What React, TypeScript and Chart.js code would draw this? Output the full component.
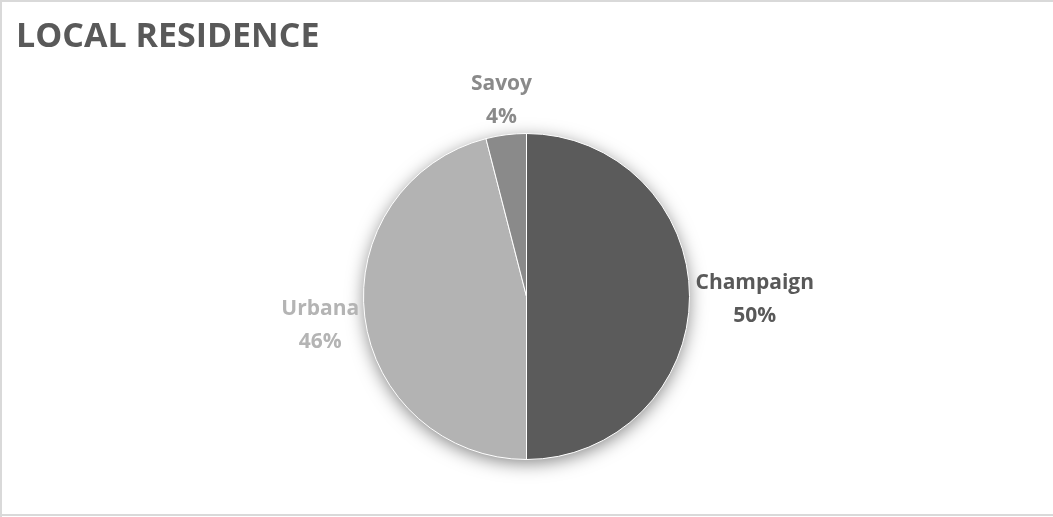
import React, { useEffect, useRef } from "react";
import { Chart, registerables } from "chart.js";

Chart.register(...registerables);

const categories = ["Champaign", "Urbana", "Savoy"];
const shares = [50, 46, 4];
const sliceColors = ["#5b5b5b", "#b3b3b3", "#8a8a8a"];
const labelColors = ["#595959", "#b4b4b4", "#8a8a8a"];
const titleText = "LOCAL RESIDENCE";

const FONT = "'Open Sans', 'Noto Sans', sans-serif";

const framePlugin = {
  id: "frame",
  beforeDraw(chart: any) {
    const { ctx, width, height } = chart;
    ctx.save();
    ctx.fillStyle = "#ffffff";
    ctx.fillRect(0, 0, width, height);
    ctx.fillStyle = "#d9d9d9";
    ctx.fillRect(0, 0, width, 2);
    ctx.fillRect(0, 0, 2, height);
    ctx.fillRect(0, height - 3, width, 2);
    ctx.fillStyle = "#595959";
    ctx.font = `bold 34px ${FONT}`;
    ctx.textBaseline = "alphabetic";
    ctx.textAlign = "left";
    ctx.fillText(titleText, 16, 47);
    ctx.restore();
  },
  beforeDatasetsDraw(chart: any) {
    const meta = chart.getDatasetMeta(0);
    const arc = meta.data[0];
    if (!arc) return;
    const { x, y, outerRadius } = arc.getProps(["x", "y", "outerRadius"], true);
    const ctx = chart.ctx;
    ctx.save();
    ctx.shadowColor = "rgba(0,0,0,0.5)";
    ctx.shadowBlur = 18;
    ctx.shadowOffsetY = 4;
    ctx.fillStyle = "#ffffff";
    ctx.beginPath();
    ctx.arc(x, y, outerRadius - 1, 0, Math.PI * 2);
    ctx.fill();
    ctx.restore();
  },
  afterDatasetsDraw(chart: any) {
    const meta = chart.getDatasetMeta(0);
    const ctx = chart.ctx;
    const data = chart.data.datasets[0].data as number[];
    const total = data.reduce((a, b) => a + b, 0);
    ctx.save();
    ctx.textAlign = "center";
    ctx.textBaseline = "middle";
    meta.data.forEach((el: any, i: number) => {
      const { x, y, startAngle, endAngle, outerRadius } = el.getProps(
        ["x", "y", "startAngle", "endAngle", "outerRadius"],
        true
      );
      const mid = (startAngle + endAngle) / 2;
      const cos = Math.cos(mid);
      const sin = Math.sin(mid);
      const line1 = categories[i];
      const line2 = Math.round((data[i] / total) * 100) + "%";
      ctx.font = `bold 21px ${FONT}`;
      const w = Math.max(ctx.measureText(line1).width, ctx.measureText(line2).width);
      const h = 64;
      const gap = 6;
      const px = x + cos * (outerRadius + gap);
      const py = y + sin * (outerRadius + gap);
      const cx = px + cos * (w / 2);
      const cy = py + sin * (h / 2);
      ctx.fillStyle = labelColors[i];
      ctx.fillText(line1, cx, cy - 13);
      ctx.fillText(line2, cx, cy + 20);
    });
    ctx.restore();
  },
};

export default function App() {
  const ref = useRef<HTMLCanvasElement | null>(null);
  useEffect(() => {
    if (!ref.current) return;
    const chart = new Chart(ref.current, {
      type: "pie",
      data: {
        labels: categories,
        datasets: [
          {
            data: shares,
            backgroundColor: sliceColors,
            borderColor: "#ffffff",
            borderWidth: 1,
          },
        ],
      },
      options: {
        animation: false,
        responsive: false,
        layout: { padding: { top: 133, bottom: 57, left: 363, right: 363 } },
        plugins: {
          legend: { display: false },
          tooltip: { enabled: false },
          title: { display: false },
        },
      },
      plugins: [framePlugin],
    });
    return () => chart.destroy();
  }, []);
  return (
    <div style={{ position: "fixed", left: 0, top: 0, width: 1053, height: 517, background: "#fff" }}>
      <canvas ref={ref} width={1053} height={517} style={{ width: 1053, height: 517, display: "block" }} />
    </div>
  );
}
